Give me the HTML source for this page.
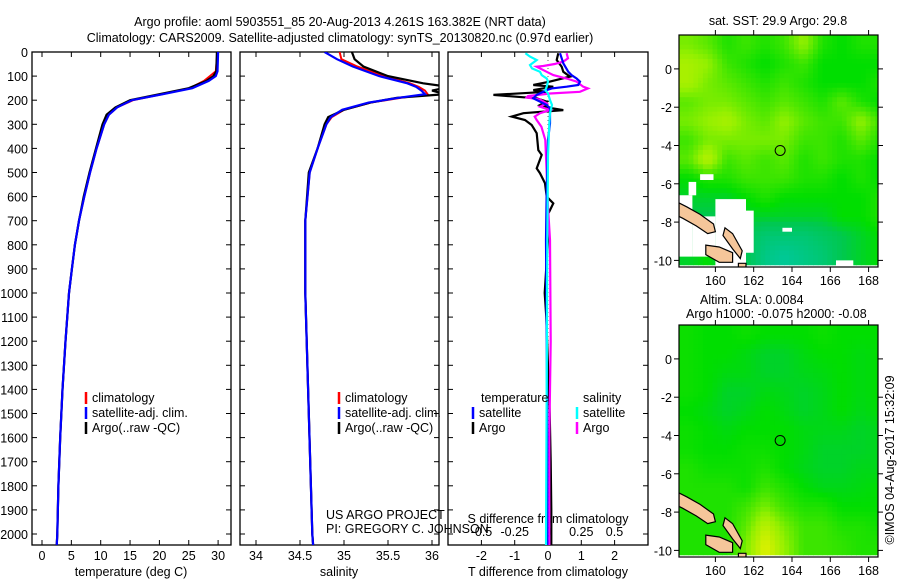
<!DOCTYPE html>
<html><head><meta charset="utf-8"><style>
body{margin:0;background:#fff;}
svg{display:block;font-family:"Liberation Sans",sans-serif;font-size:12.5px;}
</style></head><body>
<svg id="fig" width="900" height="580" viewBox="0 0 900 580" xmlns="http://www.w3.org/2000/svg">
<defs>
<clipPath id="c1"><rect x="32" y="52" width="199" height="493"/></clipPath>
<clipPath id="c2"><rect x="240" y="52" width="199" height="493"/></clipPath>
<clipPath id="c3"><rect x="448" y="52" width="200" height="493"/></clipPath>
<clipPath id="cm1"><rect x="679" y="35" width="199" height="232"/></clipPath>
<clipPath id="cm2"><rect x="679" y="325" width="199" height="232"/></clipPath>
</defs>
<text x="340" y="26" text-anchor="middle">Argo profile: aoml 5903551_85 20-Aug-2013 4.261S 163.382E (NRT data)</text>
<text x="340" y="42" text-anchor="middle">Climatology: CARS2009. Satellite-adjusted climatology: synTS_20130820.nc (0.97d earlier)</text>
<g id="g"></g>
</svg>
<script>
// ---------- profile data ----------
const tempDepth = [0,80,100,120,150,175,200,230,260,300,400,500,600,700,800,900,1000,1200,1400,1600,1800,2000,2050];
const tempArgo  = [29.8,29.7,29.2,28,25,20,15,12.5,11,10.3,9.2,8.1,7.1,6.3,5.6,5.1,4.6,4.0,3.5,3.1,2.8,2.6,2.5];
const tempClim  = [29.9,29.6,28.6,27.6,25.2,20.5,15.5,12.8,11.4,10.6,9.3,8.2,7.2,6.3,5.6,5.1,4.6,4.0,3.5,3.1,2.8,2.6,2.5];
const tempSat   = [30.0,29.9,29.6,28.4,25.6,20.6,15.3,12.8,11.4,10.6,9.3,8.2,7.2,6.3,5.6,5.1,4.6,4.0,3.5,3.1,2.8,2.6,2.5];
const salDepth  = [0,30,60,100,130,145,160,175,190,210,240,270,300,400,500,700,1000,1500,2000,2050];
const salArgo   = [35.09,35.12,35.22,35.5,35.9,36.2,36.0,36.15,35.6,35.3,35.0,34.82,34.78,34.7,34.6,34.56,34.56,34.6,34.64,34.65];
const salClim   = [34.95,34.97,35.15,35.45,35.75,35.85,35.92,35.95,35.65,35.3,35.0,34.86,34.8,34.7,34.61,34.56,34.56,34.6,34.64,34.65];
const salSat    = [34.78,34.92,35.1,35.4,35.72,35.82,35.88,35.92,35.62,35.28,34.98,34.85,34.8,34.7,34.61,34.56,34.56,34.6,34.64,34.65];
const tdArgoDepth = [5,33,61,82,102,123,137,144,158,165,178,192,206,220,234,241,254,268,282,303,337,407,427,483,503,545,600,628,656,683,780,1000,1100,1300,1500,1700,1900,2050];
const tdArgo      = [0.31,0.26,0.41,0.46,0.66,0.06,-0.44,0.16,-0.44,-0.04,-1.64,-0.34,-0.04,-0.24,0.16,0.46,-0.74,-1.09,-0.69,-0.49,-0.34,-0.29,-0.19,-0.34,-0.24,-0.09,-0.04,0.16,0.06,-0.04,0,-0.1,-0.05,0,0.05,0.08,0.1,0.1];
const tdSatDepth = [5,26,47,82,96,110,123,137,144,151,158,178,192,206,220,234,296,365,573,780,1200,1600,2050];
const tdSat      = [0.36,0.41,0.46,0.61,0.71,0.86,0.96,0.91,0.56,0.11,-0.04,-0.34,-0.44,-0.24,-0.04,0.06,0.06,0,-0.04,-0.06,-0.04,-0.02,-0.02];
const sdArgoDepth = [5,26,40,50,58,61,82,96,110,123,144,151,165,172,183,189,197,213,227,241,254,268,282,310,365,503,641,780,1200,1600,2050];
const sdArgo      = [0.14,0.15,0.115,0.05,-0.035,-0.085,-0.01,0.04,0.14,0.215,0.265,0.30,0.24,0.015,-0.15,-0.16,-0.06,-0.01,-0.06,0.015,-0.06,-0.1,-0.085,-0.05,-0.02,-0.01,0,0.015,0.02,0.01,0.01];
const sdSatDepth = [5,19,33,54,68,82,96,110,123,144,158,172,199,220,254,296,434,780,1400,2050];
const sdSat      = [-0.17,-0.135,-0.085,-0.135,-0.12,-0.06,-0.047,-0.01,0,-0.01,-0.02,0,0.015,0.03,0.015,0.01,0,-0.005,-0.01,-0.015];
const depthTicks = [0,100,200,300,400,500,600,700,800,900,1000,1100,1200,1300,1400,1500,1600,1700,1800,1900,2000];
const tempTicks = [0,5,10,15,20,25,30];
const salTicks = [34,34.5,35,35.5,36];
const tdTicks = [-2,-1,0,1,2];
const sdTicks = [-0.5,-0.25,0,0.25,0.5];
// ---------- map data (normalized colour index) ----------
const lonTicks = [160,162,164,166,168];
const latTicks = [0,-2,-4,-6,-8,-10];
const sstGrid = [
[.7,.65,.55,.6,.55,.6,.75,.55,.5,.55,.55],
[.8,.75,.6,.55,.5,.55,.6,.5,.5,.5,.5],
[.8,.7,.65,.6,.55,.6,.55,.5,.5,.5,.55],
[.65,.7,.7,.65,.6,.65,.6,.55,.65,.55,.5],
[.7,.75,.8,.7,.65,.75,.65,.6,.6,.75,.6],
[.6,.7,.7,.7,.7,.7,.6,.6,.55,.65,.55],
[.65,.85,.6,.65,.6,.65,.55,.6,.55,.55,.5],
[.5,.55,.55,.6,.6,.6,.55,.55,.5,.55,.5],
[.45,.45,.45,.5,.55,.5,.5,.5,.5,.5,.55],
[.4,.4,.4,.45,.45,.45,.45,.45,.5,.5,.55],
[.4,.4,.4,.4,.3,.3,.3,.35,.4,.45,.5],
[.45,.5,.4,.4,.25,.2,.25,.3,.4,.45,.5]];
const slaGrid = [
[.52,.5,.5,.52,.5,.5,.5,.52,.5,.5,.5],
[.52,.5,.5,.48,.45,.45,.48,.5,.5,.48,.5],
[.52,.5,.48,.48,.45,.45,.47,.48,.5,.48,.5],
[.52,.5,.45,.45,.48,.47,.45,.47,.5,.48,.5],
[.5,.48,.45,.47,.5,.48,.45,.47,.5,.47,.5],
[.52,.5,.48,.5,.5,.5,.48,.47,.47,.45,.47],
[.52,.5,.5,.52,.52,.5,.48,.45,.45,.45,.47],
[.55,.52,.52,.52,.55,.5,.47,.45,.45,.47,.47],
[.55,.55,.55,.52,.6,.55,.5,.47,.47,.48,.5],
[.55,.55,.55,.6,.7,.6,.55,.55,.5,.5,.5],
[.55,.55,.55,.65,.85,.7,.6,.6,.55,.55,.52],
[.55,.55,.55,.7,.95,.75,.6,.6,.58,.55,.55]];
const argoLon = 163.382, argoLat = -4.261;

const NS="http://www.w3.org/2000/svg";
const G=document.getElementById('g');
function el(tag,attrs,parent,txt){const e=document.createElementNS(NS,tag);for(const k in attrs)e.setAttribute(k,attrs[k]);if(txt!==undefined)e.textContent=txt;(parent||G).appendChild(e);return e;}
const yD=d=>52+d*0.241;
const xT=t=>42+t*5.87, xS=s=>256+(s-34)*88, xTD=t=>548+t*33.3, xSD=s=>548+s*133;
const PB=545;
function line(xs,ds,fx,color,w,clip,name){
  const pts=xs.map((v,i)=>fx(v).toFixed(1)+','+yD(ds[i]).toFixed(1)).join(' ');
  const p=el('polyline',{points:pts,fill:'none',stroke:color,'stroke-width':w,'clip-path':'url(#'+clip+')'});
  
  
}
function frame(x0,x1,name,ticks,fx,showDepthLabels){
  const r=el('rect',{x:x0,y:52,width:x1-x0,height:PB-52,fill:'none',stroke:'#000','stroke-width':1.3});
  
  
  depthTicks.forEach(d=>{
    el('line',{x1:x0,x2:x0+5,y1:yD(d),y2:yD(d),stroke:'#000'});
    el('line',{x1:x1-5,x2:x1,y1:yD(d),y2:yD(d),stroke:'#000'});
    if(showDepthLabels){const t=el('text',{x:28,y:yD(d)+5,'text-anchor':'end'},G,String(d));
      
      }
  });
  ticks.forEach(v=>{
    const x=fx(v);
    el('line',{x1:x,x2:x,y1:52,y2:57,stroke:'#000'});
    el('line',{x1:x,x2:x,y1:PB-5,y2:PB,stroke:'#000'});
    const t=el('text',{x:x,y:560,'text-anchor':'middle'},G,String(v));
    
    
  });
}
frame(32,231,'temperature-panel',tempTicks,xT,true);
frame(240,439,'salinity-panel',salTicks,xS,false);
frame(448,648,'difference-panel',tdTicks,xTD,false);
sdTicks.forEach(v=>{const t=el('text',{x:xSD(v),y:536,'text-anchor':'middle'},G,String(v));
  
  });
[[131,'temperature (deg C)','x-axis-title-temperature'],[339,'salinity','x-axis-title-salinity'],[548,'T difference from climatology','x-axis-title-t-diff']].forEach(a=>{
  const t=el('text',{x:a[0],y:576,'text-anchor':'middle'},G,a[1]);
  
  });
{const t=el('text',{x:548,y:523,'text-anchor':'middle'},G,'S difference from climatology');

}
el('line',{x1:548,x2:548,y1:52,y2:PB,stroke:'#000','stroke-width':0.6,'stroke-dasharray':'1,3'});

line(tempClim,tempDepth,xT,'#f00',2,'c1','temp-climatology-line');
line(tempArgo,tempDepth,xT,'#000',2.2,'c1','temp-argo-line');
line(tempSat,tempDepth,xT,'#00f',2.2,'c1','temp-satellite-line');
line(salClim,salDepth,xS,'#f00',2,'c2','sal-climatology-line');
line(salArgo,salDepth,xS,'#000',2.2,'c2','sal-argo-line');
line(salSat,salDepth,xS,'#00f',2.2,'c2','sal-satellite-line');
line(tdArgo,tdArgoDepth,xTD,'#000',2.2,'c3','t-diff-argo-line');
line(sdArgo,sdArgoDepth,xSD,'#f0f',2.2,'c3','s-diff-argo-line');
line(tdSat,tdSatDepth,xTD,'#00f',2.2,'c3','t-diff-satellite-line');
line(sdSat,sdSatDepth,xSD,'#0ff',2.2,'c3','s-diff-satellite-line');

function legend(x,y,color,label,name){
  el('line',{x1:x,x2:x,y1:y-10,y2:y+2,stroke:color,'stroke-width':2.5});
  const t=el('text',{x:x+6,y:y},G,label);
  
  
}
[[86,'climatology','#f00'],[86,'satellite-adj. clim.','#00f'],[86,'Argo(..raw -QC)','#000']].forEach((a,i)=>legend(a[0],402+i*15,a[2],a[1],'legend-temp-entry'));
[[339,'climatology','#f00'],[339,'satellite-adj. clim.','#00f'],[339,'Argo(..raw -QC)','#000']].forEach((a,i)=>legend(a[0],402+i*15,a[2],a[1],'legend-sal-entry'));
{let t=el('text',{x:481,y:402},G,'temperature');
t=el('text',{x:583,y:402},G,'salinity');}
legend(473,417,'#00f','satellite','legend-t-sat');
legend(473,432,'#000','Argo','legend-t-argo');
legend(577,417,'#0ff','satellite','legend-s-sat');
legend(577,432,'#f0f','Argo','legend-s-argo');
{let t=el('text',{x:326,y:519},G,'US ARGO PROJECT');
t=el('text',{x:326,y:533},G,'PI: GREGORY C. JOHNSON');}

// ---------- maps ----------
const LON0=158.1, LAT0=1.77, PX=19.15, SUB=4;
function cmap(v){
  const st=[[0,[0,190,170]],[0.2,[0,200,150]],[0.4,[0,200,80]],[0.5,[0,222,0]],[0.75,[150,240,0]],[1,[240,240,0]]];
  for(let i=1;i<st.length;i++){if(v<=st[i][0]){const a=st[i-1],b=st[i],f=(v-a[0])/(b[0]-a[0]);
    return 'rgb('+a[1].map((c,k)=>Math.round(c+(b[1][k]-c)*f)).join(',')+')';}}
  return 'rgb(240,240,0)';
}
function sample(grid,r,c){ // bilinear, r,c in cell units (cell centres at i+0.5)
  const R=grid.length,C=grid[0].length;
  let rr=Math.min(Math.max(r-0.5,0),R-1), cc=Math.min(Math.max(c-0.5,0),C-1);
  const r0=Math.floor(rr),c0=Math.floor(cc),r1=Math.min(r0+1,R-1),c1=Math.min(c0+1,C-1),fr=rr-r0,fc=cc-c0;
  return grid[r0][c0]*(1-fr)*(1-fc)+grid[r0][c1]*(1-fr)*fc+grid[r1][c0]*fr*(1-fc)+grid[r1][c1]*fr*fc;
}
function map(top,grid,clip,name,white){
  const mx=lon=>679+(lon-LON0)*PX, my=lat=>top+(LAT0-lat)*PX;
  const g=el('g',{'clip-path':'url(#'+clip+')'});
  
  
  const R=grid.length,C=grid[0].length,s=PX/SUB;
  for(let r=0;r<R*SUB;r++)for(let c=0;c<C*SUB;c++){
    const v=sample(grid,(r+0.5)/SUB,(c+0.5)/SUB);
    const cell=el('rect',{x:(679+c*s).toFixed(1),y:(top+r*s).toFixed(1),width:(s+0.5).toFixed(2),height:(s+0.5).toFixed(2),fill:cmap(v)},g);
    
    
  }
  const poly=(pts,attrs)=>el('polygon',Object.assign({points:pts.map(p=>mx(p[0]).toFixed(1)+','+my(p[1]).toFixed(1)).join(' ')},attrs),g);
  const box=(l0,l1,a0,a1)=>poly([[l0,a0],[l1,a0],[l1,a1],[l0,a1]],{fill:'#fff'});
  if(white){
    box(158.1,158.8,-6.6,-9.8);
    box(158.8,160.0,-7.7,-9.8);
    box(160.0,161.6,-6.8,-10.4);
    box(161.6,162.0,-7.4,-9.6);
    box(158.6,159.0,-5.9,-6.6);
    box(159.2,159.9,-5.5,-5.8);
    box(166.3,167.2,-10.0,-10.4);
    box(163.5,164.0,-8.3,-8.5);
  }
  const land={fill:'#f5c69a',stroke:'#000','stroke-width':1.2};
  poly([[158.1,-7.0],[158.5,-7.2],[159.2,-7.6],[159.9,-8.1],[160.0,-8.5],[159.6,-8.6],[159.0,-8.2],[158.3,-7.8],[158.1,-7.7]],land);
  poly([[159.5,-9.2],[160.2,-9.3],[160.9,-9.6],[160.9,-10.1],[160.2,-10.1],[159.5,-9.7]],land);
  poly([[160.5,-8.3],[160.9,-8.6],[161.4,-9.5],[161.3,-9.9],[160.9,-9.4],[160.4,-8.7]],land);
  poly([[161.2,-10.15],[161.6,-10.15],[161.6,-10.4],[161.2,-10.4]],land);
  const circ=el('circle',{cx:mx(argoLon),cy:my(argoLat),r:5,fill:'none',stroke:'#000','stroke-width':1},G);
  
  
  el('rect',{x:679,y:top,width:199,height:232,fill:'none',stroke:'#000','stroke-width':1.2});
  lonTicks.forEach(l=>{const x=mx(l);
    el('line',{x1:x,x2:x,y1:top,y2:top-5,stroke:'#000'});el('line',{x1:x,x2:x,y1:top+232,y2:top+237,stroke:'#000'});
    const t=el('text',{x:x,y:top+250,'text-anchor':'middle'},G,String(l));
    
    });
  latTicks.forEach(l=>{const y=my(l);
    el('line',{x1:674,x2:679,y1:y,y2:y,stroke:'#000'});el('line',{x1:878,x2:883,y1:y,y2:y,stroke:'#000'});
    const t=el('text',{x:672,y:y+5,'text-anchor':'end'},G,String(l));
    
    });
}
map(35,sstGrid,'cm1','sst-map',true);
map(325,slaGrid,'cm2','sla-map',false);
{let t=el('text',{x:778,y:25,'text-anchor':'middle'},G,'sat. SST: 29.9 Argo: 29.8');
t=el('text',{x:700,y:304},G,'Altim. SLA: 0.0084');
t=el('text',{x:686,y:318},G,'Argo h1000: -0.075 h2000: -0.08');
t=el('text',{x:0,y:0,transform:'translate(894,460) rotate(-90)','text-anchor':'middle'},G,'©IMOS 04-Aug-2017 15:32:09');}
</script>
</body></html>
